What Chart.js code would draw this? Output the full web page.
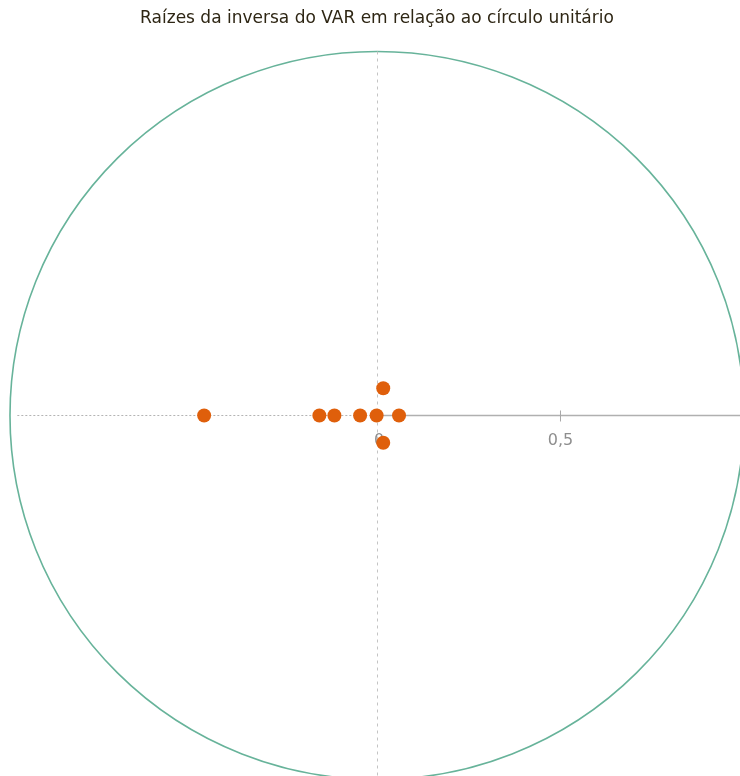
<!DOCTYPE html>
<html>
<head>
<meta charset="utf-8">
<style>
  html, body { margin: 0; padding: 0; background: #ffffff; }
  #wrap { width: 740px; height: 776px; position: relative; }
</style>
<script src="https://cdn.jsdelivr.net/npm/chart.js@4.4.1/dist/chart.umd.min.js"></script>
</head>
<body>
<div id="wrap"><canvas id="c" width="740" height="776"></canvas></div>
<script>
// Inverse roots of the VAR polynomial (real and imaginary parts)
const rootsReal = [-0.471, -0.157, -0.116, -0.046, -0.001, 0.060, 0.017, 0.017];
const rootsImag = [0, 0, 0, 0, 0, 0, 0.075, -0.075];

// Axis labels shown on the horizontal axis
const tickValues = [0.5];
const tickLabels = ['0,5'];
const originLabel = '0';

const titleText = 'Raízes da inversa do VAR em relação ao círculo unitário';

const points = rootsReal.map((re, i) => ({ x: re, y: rootsImag[i] }));

// Unit circle, origin axes, ticks and title drawn through the chart's scales
const unitCirclePlugin = {
  id: 'unitCircle',
  beforeDatasetsDraw(chart) {
    const { ctx, scales: { x, y }, width } = chart;
    const cx = x.getPixelForValue(0);
    const cy = y.getPixelForValue(0);
    const rx = x.getPixelForValue(1) - cx;
    const ry = cy - y.getPixelForValue(1);
    ctx.save();

    // unit circle
    ctx.beginPath();
    ctx.ellipse(cx, cy, rx, ry, 0, 0, Math.PI * 2);
    ctx.strokeStyle = '#67b39a';
    ctx.lineWidth = 1.6;
    ctx.stroke();

    // vertical dashed axis through the origin
    ctx.beginPath();
    ctx.setLineDash([3, 4]);
    ctx.moveTo(cx + 0.5, y.getPixelForValue(1));
    ctx.lineTo(cx + 0.5, chart.height);
    ctx.strokeStyle = '#c4c4c4';
    ctx.lineWidth = 1;
    ctx.stroke();

    // dotted negative half of the horizontal axis
    ctx.beginPath();
    ctx.setLineDash([2, 2]);
    ctx.moveTo(x.getPixelForValue(-0.98), cy);
    ctx.lineTo(cx, cy);
    ctx.strokeStyle = '#b4b4b4';
    ctx.stroke();

    // solid positive half of the horizontal axis
    ctx.beginPath();
    ctx.setLineDash([]);
    ctx.moveTo(cx, cy);
    ctx.lineTo(width, cy);
    ctx.strokeStyle = '#b0b0b0';
    ctx.lineWidth = 1.5;
    ctx.stroke();

    // ticks and labels
    ctx.font = '16px "DejaVu Sans", Verdana, sans-serif';
    ctx.fillStyle = '#8e8e8e';
    ctx.textAlign = 'center';
    ctx.textBaseline = 'middle';
    tickValues.forEach((v, i) => {
      const px = x.getPixelForValue(v);
      ctx.beginPath();
      ctx.moveTo(px, cy - 5);
      ctx.lineTo(px, cy + 6);
      ctx.strokeStyle = '#a8a8a8';
      ctx.lineWidth = 1;
      ctx.stroke();
      ctx.fillText(tickLabels[i], px, cy + 25);
    });
    ctx.fillText(originLabel, cx + 2, cy + 25);

    // title
    ctx.font = '17px "DejaVu Sans", Verdana, sans-serif';
    ctx.fillStyle = '#2e2614';
    ctx.fillText(titleText, cx, 19);
    ctx.restore();
  }
};

new Chart(document.getElementById('c'), {
  type: 'scatter',
  data: {
    datasets: [{
      data: points,
      backgroundColor: '#df5f0b',
      borderColor: '#df5f0b',
      pointRadius: 7,
      pointHoverRadius: 7,
      borderWidth: 0
    }]
  },
  options: {
    responsive: false,
    animation: false,
    layout: { padding: 0, autoPadding: false },
    plugins: {
      legend: { display: false },
      title: { display: false },
      tooltip: { enabled: false }
    },
    scales: {
      x: { type: 'linear', min: -1.0272, max: 0.9891, display: false },
      y: { type: 'linear', min: -0.9904, max: 1.1415, display: false }
    }
  },
  plugins: [unitCirclePlugin]
});
</script>
</body>
</html>
